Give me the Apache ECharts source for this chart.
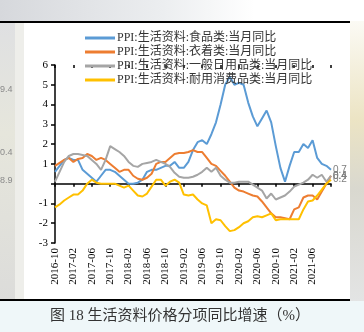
<!DOCTYPE html>
<html><head><meta charset="utf-8">
<script src="https://cdn.jsdelivr.net/npm/echarts@6/dist/echarts.min.js"></script>
<style>html,body{margin:0;padding:0;background:#fff}#c{width:364px;height:332px}</style>
</head><body><div id="c"></div>
<script>
const months = ['2016-10','2016-11','2016-12','2017-01','2017-02','2017-03','2017-04','2017-05','2017-06','2017-07','2017-08','2017-09','2017-10','2017-11','2017-12',
'2018-01','2018-02','2018-03','2018-04','2018-05','2018-06','2018-07','2018-08','2018-09','2018-10','2018-11','2018-12',
'2019-01','2019-02','2019-03','2019-04','2019-05','2019-06','2019-07','2019-08','2019-09','2019-10','2019-11','2019-12',
'2020-01','2020-02','2020-03','2020-04','2020-05','2020-06','2020-07','2020-08','2020-09','2020-10','2020-11','2020-12',
'2021-01','2021-02','2021-03','2021-04','2021-05','2021-06','2021-07','2021-08','2021-09','2021-10'];
const seriesNames = ['PPI:生活资料:食品类:当月同比','PPI:生活资料:衣着类:当月同比','PPI:生活资料:一般日用品类:当月同比','PPI:生活资料:耐用消费品类:当月同比'];
const food = [0.6,0.9,1.2,1.3,1.2,1.2,0.7,0.5,0.3,0.1,0.4,0.7,0.7,0.6,0.4,0.2,0.0,0.0,0.05,0.2,0.6,0.7,0.7,0.8,0.9,0.9,1.1,0.8,0.8,1.1,1.7,2.1,2.2,2.0,2.5,3.1,4.0,5.0,5.4,5.0,5.1,5.0,4.1,3.4,2.9,3.3,3.7,3.1,1.9,0.8,0.1,0.9,1.6,1.6,2.0,1.8,2.2,1.3,1.0,0.9,0.7];
const clothing = [0.9,1.05,1.2,1.3,1.1,1.25,1.3,1.5,1.4,1.2,1.3,1.2,1.0,0.8,0.6,0.7,0.7,0.4,0.25,0.2,0.3,0.5,1.0,1.1,1.1,1.3,1.5,1.55,1.55,1.6,1.7,1.6,1.6,1.3,1.0,0.9,0.65,0.4,0.1,-0.2,-0.35,-0.4,-0.5,-0.6,-0.65,-0.9,-1.2,-1.5,-1.7,-1.7,-1.75,-1.8,-1.3,-1.2,-0.7,-0.6,-0.6,-0.8,-0.4,0.0,0.4];
const daily = [0.1,0.6,1.1,1.4,1.5,1.5,1.45,1.4,1.2,1.0,0.7,1.2,1.9,1.75,1.6,1.4,1.1,0.9,0.85,1.0,1.05,1.1,1.2,1.1,1.0,0.85,0.55,0.35,0.3,0.3,0.35,0.45,0.6,0.8,0.6,0.8,0.4,0.2,0.05,0.05,0.1,0.1,0.1,-0.05,-0.2,-0.35,-0.75,-0.5,-0.8,-0.7,-0.6,-0.4,-0.15,-0.05,0.05,0.2,0.45,0.3,0.45,0.1,0.4];
const durable = [-1.2,-1.05,-0.85,-0.7,-0.55,-0.55,-0.35,0.0,0.2,0.05,0.0,0.0,0.0,0.0,-0.1,-0.2,-0.1,-0.35,-0.6,-0.65,-0.5,-0.15,0.2,0.2,-0.1,0.1,0.2,0.05,-0.55,-0.6,-0.55,-0.8,-1.0,-1.1,-2.0,-1.8,-1.85,-2.15,-2.4,-2.35,-2.2,-2.0,-1.9,-1.7,-1.65,-1.7,-1.6,-1.5,-1.85,-1.8,-1.8,-1.8,-1.8,-1.8,-1.3,-0.9,-0.85,-0.6,-0.3,0.0,0.2];
const colors = ['#5b9bd5','#ed7d31','#a5a5a5','#ffc000'];
const caption = '图 18 生活资料价格分项同比增速（%）';
const sideTexts = [['9.4',90],['0.4',153],['8.9',181]];

const SERIF = "'Liberation Serif','Noto Sans CJK SC',serif";
const chart = echarts.init(document.getElementById('c'), null, {renderer:'canvas'});
const allData = [food, clothing, daily, durable];
const showLabel = (idx) => idx % 4 === 0 && idx < 60;

const graphics = [
  {type:'rect', shape:{x:0,y:0,width:364,height:21}, style:{fill:new echarts.graphic.LinearGradient(0,0,1,0,[{offset:0,color:'#d6d8dc'},{offset:0.45,color:'#eceef0'},{offset:0.7,color:'#ffffff'},{offset:1,color:'#ffffff'}])}, z:-10},
  {type:'rect', shape:{x:0,y:21,width:24,height:280}, style:{fill:new echarts.graphic.LinearGradient(0,0,0,1,[{offset:0,color:'#dfe0e2'},{offset:0.4,color:'#e6e6dc'},{offset:1,color:'#dcdcda'}])}, z:-10},
  {type:'rect', shape:{x:15,y:21,width:9,height:280}, style:{fill:'#eeeeea'}, z:-9},
  {type:'rect', shape:{x:350,y:21,width:14,height:280}, style:{fill:new echarts.graphic.LinearGradient(0,0,0,1,[{offset:0,color:'#fbfaf4'},{offset:0.35,color:'#ece4c4'},{offset:0.6,color:'#d9d8cf'},{offset:1,color:'#e3e4e4'}])}, z:-10},
  {type:'rect', shape:{x:0,y:301,width:364,height:31}, style:{fill:'#eff7f9'}, z:-10},
  {type:'line', shape:{x1:0,y1:22,x2:350,y2:22}, style:{stroke:'#000',lineWidth:2}, z:5},
  {type:'line', shape:{x1:0,y1:300,x2:350,y2:300}, style:{stroke:'#000',lineWidth:2}, z:5},
  {type:'text', x:180, y:316, style:{text:caption, fill:'#333', font:"15px " + SERIF, align:'center', verticalAlign:'middle'}}
];
sideTexts.forEach(t => graphics.push({type:'text', x:0, y:t[1], style:{text:t[0], fill:'#8a8a8a', font:"9px 'Liberation Sans',sans-serif", verticalAlign:'middle'}, z:-5}));

chart.setOption({
  animation:false,
  backgroundColor:'#ffffff',
  graphic: graphics,
  legend: {
    orient:'vertical', left:80, top:27, itemWidth:30, itemHeight:3, itemGap:2,
    icon:'rect',
    textStyle:{fontFamily:SERIF, fontSize:12, color:'#333', lineHeight:12, padding:[0,0,0,-3]},
    data: seriesNames
  },
  grid: {left:55, right:33, top:65, bottom:89, containLabel:false},
  xAxis: [
    {type:'category', data:months, boundaryGap:false,
     axisLine:{onZero:true, lineStyle:{color:'#000', width:1.5}},
     axisTick:{show:true, interval:3, length:3, inside:false, lineStyle:{color:'#000', width:1.5}},
     axisLabel:{show:false}, splitLine:{show:false}},
    {type:'category', data:months, boundaryGap:false, position:'bottom',
     axisLine:{show:false, onZero:false}, axisTick:{show:false},
     axisLabel:{show:true, interval:(idx)=>showLabel(idx), rotate:90, fontFamily:SERIF, fontSize:11, color:'#000', margin:5},
     splitLine:{show:false}},
    {type:'category', data:months, boundaryGap:false,
     axisLine:{onZero:true, show:false},
     axisTick:{show:true, interval:3, length:3, inside:true, lineStyle:{color:'#000', width:1.5}},
     axisLabel:{show:false}, splitLine:{show:false}}
  ],
  yAxis: {type:'value', min:-3, max:6, interval:1,
    axisLine:{show:true, lineStyle:{color:'#000', width:1.5}},
    axisTick:{show:true, length:4, lineStyle:{color:'#000', width:1.5}},
    axisLabel:{fontFamily:SERIF, fontSize:11, color:'#000', margin:7, formatter:(v)=> v===0 ? '' : String(v)},
    splitLine:{show:false}},
  series: seriesNames.map((n,i)=>({
    name:n, type:'line', data:allData[i], xAxisIndex:0, symbol:'none', smooth:false,
    lineStyle:{color:colors[i], width:2}, itemStyle:{color:colors[i]},
    endLabel:{show:true, distance:2, formatter:(p)=>String(p.value), color:'#7f7f7f', fontSize:10, fontFamily:"'Liberation Sans',sans-serif"},
    z: 3 + (i===3?1:0)
  }))
});
</script></body></html>
